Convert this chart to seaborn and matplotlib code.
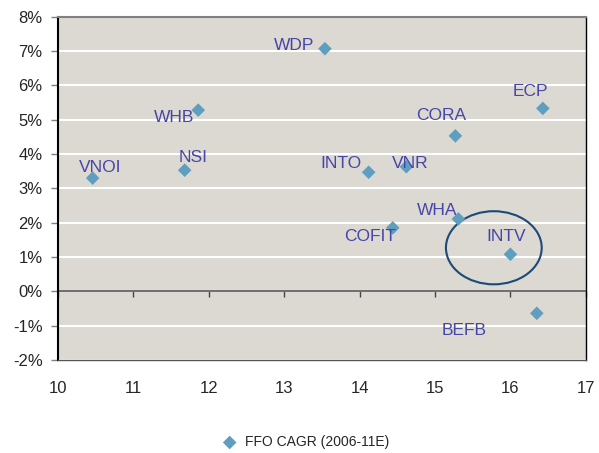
"""plot.py - FFO CAGR scatter with company labels"""

import matplotlib.pyplot as plt
import pandas as pd
import seaborn as sns
from matplotlib.patches import Ellipse
from matplotlib.ticker import FuncFormatter

# data
companies = ["VNOI", "NSI", "WHB", "WDP", "INTO", "VNR", "CORA", "ECP",
             "WHA", "COFIT", "INTV", "BEFB"]
x_vals = [10.46, 11.68, 11.86, 13.54, 14.12, 14.62, 15.27, 16.43,
          15.31, 14.44, 16.00, 16.35]
ffo_cagr = [3.30, 3.53, 5.28, 7.07, 3.47, 3.63, 4.53, 5.33,
            2.11, 1.85, 1.08, -0.64]
series_name = "FFO CAGR (2006-11E)"

# label offsets in pixels (dx, dy) relative to the marker
label_offsets = {
    "VNOI": (8, 11), "NSI": (8, 13), "WHB": (-24, -7), "WDP": (-31, 3),
    "INTO": (-28, 9), "VNR": (4, 3), "CORA": (-14, 20), "ECP": (-12, 17),
    "WHA": (-21, 8), "COFIT": (-23, -9), "INTV": (-4, 18), "BEFB": (-73, -17),
}

df = pd.DataFrame({"company": companies, "x": x_vals, "cagr": ffo_cagr})

sns.set_style("white")
plt.rcParams["font.family"] = ["Liberation Sans", "DejaVu Sans"]

fig = plt.figure(figsize=(5.99, 4.53), dpi=100)
ax = fig.add_axes([0.0968, 0.2053, 0.8812, 0.7577])
ax.set_facecolor("#dcd8d2")

sns.scatterplot(data=df, x="x", y="cagr", marker="D", s=48,
                color="#5f9ebf", edgecolor="none", ax=ax,
                label=series_name, legend=False, zorder=3)

for name, xv, yv in zip(companies, x_vals, ffo_cagr):
    dx, dy = label_offsets[name]
    ax.annotate(name, (xv, yv), xytext=(dx, dy), textcoords="offset pixels",
                ha="center", va="center", fontsize=12.5, color="#4646a6",
                zorder=4)

# highlight ellipse around INTV
ax.add_patch(Ellipse((15.78, 1.27), 1.27, 2.13, fill=False,
                     edgecolor="#1b4a78", linewidth=1.5, zorder=2))

ax.set_xlim(10, 17)
ax.set_ylim(-2, 8)
ax.set_xticks(range(10, 18))
ax.set_yticks(range(-2, 9))
ax.yaxis.set_major_formatter(FuncFormatter(lambda v, _: f"{int(v)}%"))
ax.grid(axis="y", color="white", linewidth=1.5)
ax.set_axisbelow(True)
ax.set_xlabel("")
ax.set_ylabel("")

ax.tick_params(axis="x", length=0, pad=15, labelsize=12)
ax.tick_params(axis="y", length=5, width=1, color="#808080", labelsize=12,
               direction="out", pad=6, left=True)

ax.spines["left"].set_color("black")
ax.spines["left"].set_linewidth(1.5)
ax.spines["right"].set_color("black")
ax.spines["right"].set_linewidth(1)
ax.spines["top"].set_color("#808080")
ax.spines["top"].set_linewidth(1.5)
ax.spines["bottom"].set_color("#555555")
ax.spines["bottom"].set_linewidth(1)

# zero line with tick marks
ax.axhline(0, color="#555555", linewidth=1.2, zorder=1)
zero_axis = ax.secondary_xaxis(0.2)
zero_axis.set_xticks(range(10, 18))
zero_axis.tick_params(length=4, width=1, color="#444444", labelbottom=False)
zero_axis.spines["bottom"].set_visible(False)

handles, labels = ax.get_legend_handles_labels()
fig.legend(handles, labels, loc="center", bbox_to_anchor=(0.505, 0.024),
           frameon=False, fontsize=10, handletextpad=0.1, markerscale=1.0)

fig.savefig("out.png", dpi=100)
